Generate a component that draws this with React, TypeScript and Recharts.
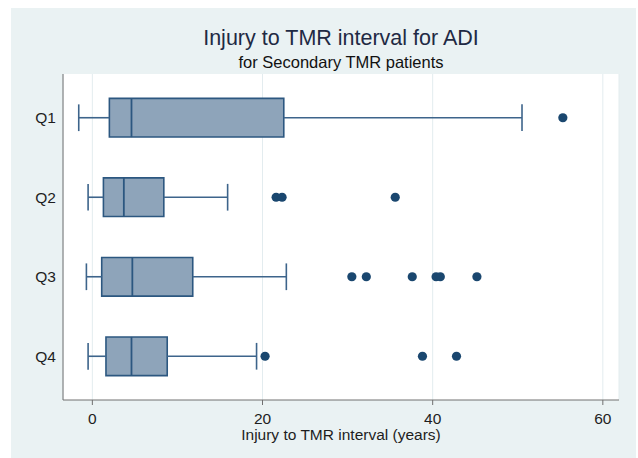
import React from 'react';
import {
  ComposedChart,
  XAxis,
  YAxis,
  CartesianGrid,
  ReferenceArea,
  ReferenceLine,
  Scatter,
} from 'recharts';

const categories = ['Q1', 'Q2', 'Q3', 'Q4'];
const whiskerLow = [-1.6, -0.5, -0.7, -0.5];
const lowerQuartile = [2.0, 1.3, 1.1, 1.6];
const medians = [4.6, 3.7, 4.7, 4.6];
const upperQuartile = [22.5, 8.4, 11.8, 8.8];
const whiskerHigh = [50.5, 15.9, 22.8, 19.3];
const outliers = [
  [55.3],
  [21.6, 22.3, 35.6],
  [30.5, 32.2, 37.6, 40.4, 40.9, 45.2],
  [20.3, 38.8, 42.8],
];
const xTicks = [0, 20, 40, 60];
const yTicks = [1, 2, 3, 4];

const FONT = '"Liberation Sans", Arial, Helvetica, sans-serif';
const BG = '#EAF2F3';
const BOX_FILL = '#8EA4BA';
const BOX_STROKE = '#2C5780';
const WHISKER = '#3D648B';
const DOT = '#1A476F';
const AXIS = '#707070';
const TEXT = '#1e1e1e';
const BOX_HALF = 0.243;
const CAP_HALF = 0.168;

const outlierPoints = outliers.flatMap((vals, i) =>
  vals.map((v) => ({ x: v, y: i + 1 }))
);

const Dot = (props: any) => {
  const { cx, cy } = props;
  if (cx == null || cy == null) return null;
  return <circle cx={cx} cy={cy} r={4.6} fill={DOT} />;
};

export default function App() {
  return (
    <div
      style={{
        position: 'fixed',
        left: 11,
        top: 8,
        width: 625,
        height: 450,
        background: BG,
        fontFamily: FONT,
      }}
    >
      <div
        style={{
          position: 'absolute',
          left: 52,
          width: 556,
          top: 20,
          textAlign: 'center',
          fontSize: 21.5,
          lineHeight: '21.5px',
          color: '#1f2a44',
          whiteSpace: 'nowrap',
        }}
      >
        Injury to TMR interval for ADI
      </div>
      <div
        style={{
          position: 'absolute',
          left: 52,
          width: 556,
          top: 46,
          textAlign: 'center',
          fontSize: 16.5,
          lineHeight: '16.5px',
          color: '#111',
          whiteSpace: 'nowrap',
        }}
      >
        for Secondary TMR patients
      </div>
      <ComposedChart
        width={625}
        height={450}
        margin={{ top: 66, right: 17, left: 0, bottom: 28 }}
        style={{ position: 'absolute', left: 0, top: 0 }}
      >
        <CartesianGrid
          horizontal={false}
          vertical={true}
          stroke="#E3ECEF"
          strokeWidth={1}
          fill="#ffffff"
          fillOpacity={1}
        />
        <XAxis
          type="number"
          dataKey="x"
          domain={[-3.45, 61.9]}
          ticks={xTicks}
          allowDataOverflow
          tickSize={5}
          tickMargin={8}
          height={30}
          stroke={AXIS}
          tick={{ fill: TEXT, fontSize: 15.5, fontFamily: FONT }}
          label={{
            value: 'Injury to TMR interval (years)',
            position: 'bottom',
            offset: -1.5,
            fill: TEXT,
            fontSize: 15.5,
            fontFamily: FONT,
          }}
        />
        <YAxis
          type="number"
          dataKey="y"
          domain={[0.45, 4.55]}
          reversed
          ticks={yTicks}
          allowDataOverflow
          tickLine={false}
          tickSize={0}
          tickMargin={7}
          width={52}
          stroke={AXIS}
          tickFormatter={(v: number) => categories[v - 1]}
          tick={{ fill: TEXT, fontSize: 15.5, fontFamily: FONT }}
        />
        {categories.map((c, i) => {
          const y = i + 1;
          return (
            <React.Fragment key={c}>
              <ReferenceLine
                segment={[
                  { x: whiskerLow[i], y },
                  { x: lowerQuartile[i], y },
                ]}
                stroke={WHISKER}
                strokeWidth={1.6}
              />
              <ReferenceLine
                segment={[
                  { x: upperQuartile[i], y },
                  { x: whiskerHigh[i], y },
                ]}
                stroke={WHISKER}
                strokeWidth={1.6}
              />
              <ReferenceLine
                segment={[
                  { x: whiskerLow[i], y: y - CAP_HALF },
                  { x: whiskerLow[i], y: y + CAP_HALF },
                ]}
                stroke={WHISKER}
                strokeWidth={1.6}
              />
              <ReferenceLine
                segment={[
                  { x: whiskerHigh[i], y: y - CAP_HALF },
                  { x: whiskerHigh[i], y: y + CAP_HALF },
                ]}
                stroke={WHISKER}
                strokeWidth={1.6}
              />
              <ReferenceArea
                x1={lowerQuartile[i]}
                x2={upperQuartile[i]}
                y1={y - BOX_HALF}
                y2={y + BOX_HALF}
                fill={BOX_FILL}
                fillOpacity={1}
                stroke={BOX_STROKE}
                strokeWidth={1.6}
              />
              <ReferenceLine
                segment={[
                  { x: medians[i], y: y - BOX_HALF },
                  { x: medians[i], y: y + BOX_HALF },
                ]}
                stroke={BOX_STROKE}
                strokeWidth={1.8}
              />
            </React.Fragment>
          );
        })}
        <Scatter
          data={outlierPoints}
          dataKey="x"
          shape={<Dot />}
          isAnimationActive={false}
        />
      </ComposedChart>
    </div>
  );
}
